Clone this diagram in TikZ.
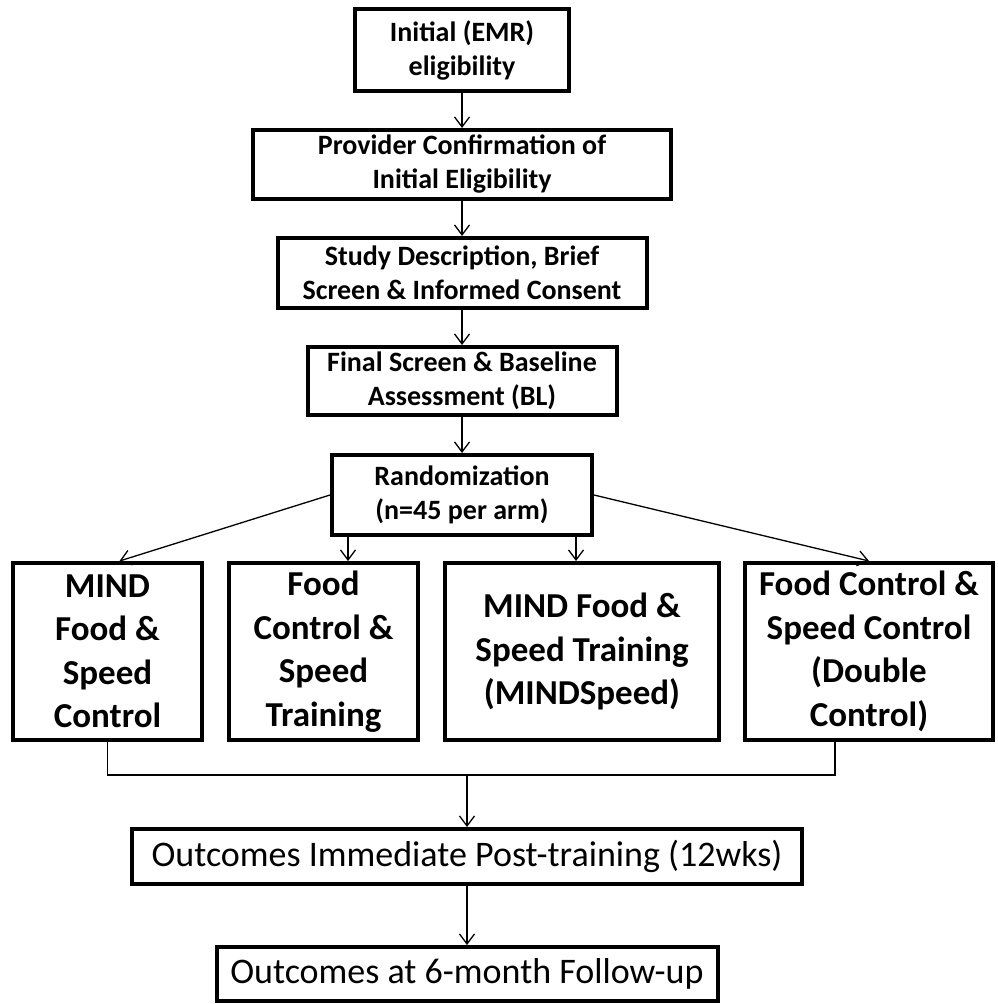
\documentclass[tikz,border=0pt]{standalone}
\usepackage{fontspec}
\setmainfont{Carlito}
\usepackage{tikz}
\usetikzlibrary{positioning,arrows.meta}
\tikzset{
  box/.style={rectangle,draw=black,fill=white,line width=4pt,
    align=center,inner sep=2pt,font=\fontsize{28}{34}\selectfont\bfseries},
  arm/.style={box,minimum height=177pt,font=\fontsize{35}{43.5}\selectfont\bfseries},
  outbox/.style={box,font=\fontsize{36}{43}\selectfont},
  fl/.style={-{Straight Barb[length=10pt,width=15pt]},draw=black,line width=1.3pt},
  ln/.style={draw=black,line width=1.6pt},
}

\begin{document}
\begin{tikzpicture}[x=1pt,y=1pt,node distance=35pt and 23pt]
  \useasboundingbox (0,0) rectangle (997,-1004);
  \node[box,minimum width=214pt,minimum height=82pt] (elig) at (462,-50) {Initial (EMR)\\eligibility};
  \node[box,below=of elig,minimum width=418pt,minimum height=69pt] (prov) {Provider Confirmation of\\Initial Eligibility};
  \node[box,below=of prov,minimum width=369pt,minimum height=70pt] (study) {Study Description, Brief\\Screen \& Informed Consent};
  \node[box,below=of study,minimum width=309pt,minimum height=68pt] (final) {Final Screen \& Baseline\\Assessment (BL)};
  \node[box,below=36pt of final,minimum width=260pt,minimum height=80pt] (rand) {Randomization\\(n=45 per arm)};
  % four arms
  \node[arm,minimum width=189pt] (mfsc) at (107.5,-651.5) {MIND\\Food \&\\Speed\\Control};
  \node[arm,right=of mfsc,minimum width=189pt] (fcst) {Food\\Control \&\\Speed\\Training};
  \node[arm,right=of fcst,minimum width=274pt] (mfst) {MIND Food \&\\Speed Training\\(MINDSpeed)};
  \node[arm,right=22pt of mfst,minimum width=248pt] (fcsc) {Food Control \&\\Speed Control\\(Double\\Control)};
  \node[outbox,minimum width=670pt,minimum height=55pt] (post) at (467,-856.5) {Outcomes Immediate Post-training (12wks)};
  \node[outbox,below=59pt of post,minimum width=501pt,minimum height=54pt] (fup) {Outcomes at 6-month Follow-up};
  \draw[fl] (elig) -- (prov);
  \draw[fl] (prov) -- (study);
  \draw[fl] (study) -- (final);
  \draw[fl] (final) -- (rand);
  \coordinate (rl) at ([xshift=18pt]rand.south west);
  \coordinate (rr) at ([xshift=-18pt]rand.south east);
  \draw[fl] (rand.west) -- ([xshift=12pt]mfsc.north);
  \draw[fl] (rl) -- (rl |- fcst.north);
  \draw[fl] (rr) -- (rr |- mfst.north);
  \draw[fl] (rand.east) -- (fcsc.north);
  % join
  \coordinate (jm) at (467,-775);
  \coordinate (jr) at ([xshift=-34pt]fcsc.south);
  \draw[ln] (mfsc.south) |- (jm) -| (jr);
  \draw[fl] (jm) -- (post);
  \draw[fl] (post) -- (fup);
\end{tikzpicture}
\end{document}
